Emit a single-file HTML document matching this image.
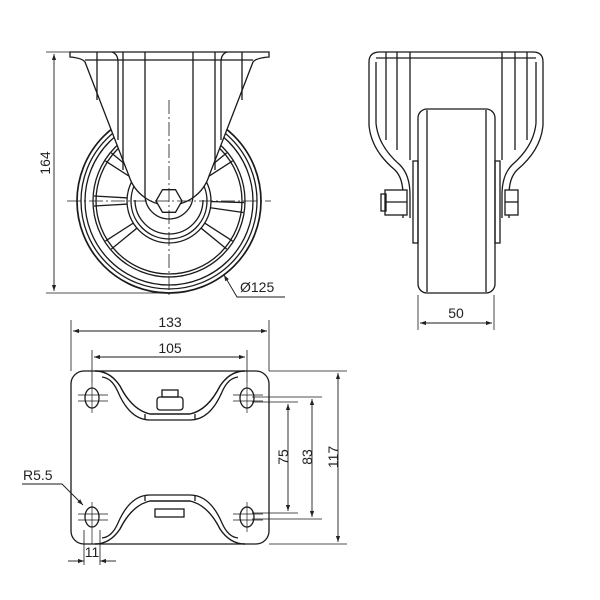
<!DOCTYPE html>
<html><head><style>
html,body{margin:0;padding:0;background:#fff;}
svg{display:block;}
text{font-family:"Liberation Sans",sans-serif;font-size:14px;fill:#222;}
</style></head><body>
<svg width="600" height="600" viewBox="0 0 600 600" xmlns="http://www.w3.org/2000/svg">
<defs>
<marker id="a" viewBox="0 0 10 10" refX="10" refY="5" markerWidth="8" markerHeight="6" orient="auto-start-reverse" markerUnits="userSpaceOnUse"><path d="M0,1.5 L10,5 L0,8.5 Z" fill="#222"/></marker>
</defs>
<g fill="none" stroke="#1a1a1a" stroke-width="1.3">
<circle cx="169" cy="201" r="92" stroke-width="1.7"/>
<circle cx="169" cy="201" r="88"/>
<circle cx="169" cy="201" r="84"/>
<circle cx="169" cy="201" r="76"/>
<circle cx="169" cy="201" r="73"/>
<g stroke-width="1.3">
<g transform="rotate(5 169 201)"><path d="M209,198 L244,196 M209,204 L244,206"/></g>
<g transform="rotate(36 169 201)"><path d="M209,198 L244,196 M209,204 L244,206"/></g>
<g transform="rotate(144 169 201)"><path d="M209,198 L244,196 M209,204 L244,206"/></g>
<g transform="rotate(180 169 201)"><path d="M209,198 L244,196 M209,204 L244,206"/></g>
<g transform="rotate(216 169 201)"><path d="M209,198 L244,196 M209,204 L244,206"/></g>
<g transform="rotate(252 169 201)"><path d="M209,198 L244,196 M209,204 L244,206"/></g>
<g transform="rotate(288 169 201)"><path d="M209,198 L244,196 M209,204 L244,206"/></g>
<g transform="rotate(324 169 201)"><path d="M209,198 L244,196 M209,204 L244,206"/></g>
</g>
<circle cx="169" cy="201" r="42" fill="#fff"/>
<circle cx="169" cy="201" r="38"/>
<path d="M70,52 L269,52 L269,57 Q256,58 253,62 L209,176 A42,42 0 0 1 129,176 L85,62 Q82,58 70,57 Z" fill="#fff"/>
<path d="M85,60 L253,60"/>
<path d="M97,52 L97,100 M242,52 L242,100"/>
<path d="M112,52 Q118,54 118,62 L118,140 M227,52 Q221,54 221,62 L221,140"/>
<path d="M123,52 L123,170 M215,52 L215,170"/>
<path d="M145,52 L145,195 A24,24 0 0 0 193,195 L193,52" />
<path d="M135,200 A34,34 0 0 0 203,200"/>
<polygon points="156,201 162.5,189.7 175.5,189.7 182,201 175.5,212.3 162.5,212.3" fill="#fff"/>
<path d="M169,100 L169,296 M67,201 L271,201" stroke-width="0.8" stroke-dasharray="14,3,2,3"/>
<path d="M46,52 L70,52 M46,293 L169,293" stroke-width="0.8"/>
<path d="M54,54 L54,291" stroke-width="0.9" marker-start="url(#a)" marker-end="url(#a)"/>
<path d="M224,275 L237,297 L285,297" stroke-width="0.9" marker-start="url(#a)"/>

<path d="M369,62 Q369,52 380,52 L533,52 Q543,52 543,62" />
<path d="M369,62 L369,125 Q371,150 395,170 Q403,178 403,195 L403,218"/>
<path d="M543,62 L543,125 Q541,150 517,170 Q509,178 509,195 L509,218"/>
<path d="M376,62 L376,123 Q378,146 400,165 Q410,175 410,195 L410,218"/>
<path d="M536,62 L536,123 Q534,146 512,165 Q502,175 502,195 L502,218"/>
<path d="M386,52 L386,140 M397,52 L397,150 M410,52 L410,160 M502,52 L502,160 M515,52 L515,150 M527,52 L527,140"/>
<path d="M376,58 L536,58"/>
<rect x="413" y="161" width="5" height="82"/>
<rect x="495" y="161" width="5" height="82"/>
<rect x="418" y="109" width="77" height="184" rx="9"/>
<path d="M427,110 L427,292 M486,110 L486,292"/>
<rect x="385" y="190" width="22" height="25" fill="#fff"/>
<path d="M385,202 L407,202"/>
<rect x="381" y="194" width="5" height="17"/>
<rect x="505" y="190" width="13" height="25" fill="#fff"/>
<path d="M505,202 L518,202"/>
<path d="M418,295 L418,330 M494,295 L494,330" stroke-width="0.8"/>
<path d="M420,323 L492,323" stroke-width="0.9" marker-start="url(#a)" marker-end="url(#a)"/>

<rect x="71" y="371" width="198" height="173" rx="13"/>
<path d="M95,371 Q110,371 120,386 Q132,410 150,414 L190,414 Q208,410 220,386 Q230,371 245,371" stroke-width="1.4"/>
<path d="M102,377 Q112,378 118,392 Q130,420 150,420 L190,420 Q210,420 222,392 Q228,378 238,377"/>
<path d="M95,544 Q110,544 120,529 Q132,505 150,501 L190,501 Q208,505 220,529 Q230,544 245,544" stroke-width="1.4"/>
<path d="M102,538 Q112,537 118,523 Q130,495 150,495 L190,495 Q210,495 222,523 Q228,537 238,538"/>
<path d="M145,414 L145,420 M195,414 L195,420 M145,495 L145,501 M195,495 L195,501" />
<rect x="157" y="397" width="26" height="13" rx="3"/>
<rect x="162" y="390" width="16" height="7"/>
<rect x="155" y="509" width="29" height="8"/>
<ellipse cx="92" cy="398" rx="7" ry="10"/>
<ellipse cx="247" cy="398" rx="7" ry="10"/>
<ellipse cx="92" cy="517" rx="7" ry="10"/>
<ellipse cx="247" cy="517" rx="7" ry="10"/>
<g stroke-width="0.7">
<path d="M78,395 L108,395 M78,401 L108,401 M233,395 L263,395 M233,401 L263,401"/>
<path d="M78,514 L108,514 M78,520 L108,520 M233,514 L263,514 M233,520 L263,520"/>
<path d="M92,383 L92,413 M247,383 L247,413 M92,502 L92,544 M247,502 L247,532"/>
</g>
<g stroke-width="0.8">
<path d="M71,320 L71,371 M269,320 L269,371"/>
<path d="M92,350 L92,383 M247,350 L247,383"/>
<path d="M269,371 L347,371 M269,544 L347,544 M252,397 L322,397 M252,519 L322,519 M252,402 L298,402 M252,513 L298,513"/>
<path d="M84,530 L84,565 M100,530 L100,565"/>
</g>
<g stroke-width="0.9">
<path d="M73,331 L267,331" marker-start="url(#a)" marker-end="url(#a)"/>
<path d="M94,357 L245,357" marker-start="url(#a)" marker-end="url(#a)"/>
<path d="M288,404 L288,511" marker-start="url(#a)" marker-end="url(#a)"/>
<path d="M312,399 L312,517" marker-start="url(#a)" marker-end="url(#a)"/>
<path d="M338,373 L338,542" marker-start="url(#a)" marker-end="url(#a)"/>
<path d="M68,561 L84,561" marker-end="url(#a)"/>
<path d="M116,561 L100,561" marker-end="url(#a)"/>
<path d="M22,484 L62,484 L83,505" marker-end="url(#a)"/>
</g>
</g>
<text x="50" y="173" text-anchor="middle" transform="rotate(-90 45 168)">164</text>
<text x="240" y="292">Ø125</text>
<text x="456" y="318" text-anchor="middle">50</text>
<text x="170" y="327" text-anchor="middle">133</text>
<text x="170" y="353" text-anchor="middle">105</text>
<text x="283" y="462" text-anchor="middle" transform="rotate(-90 283 457)">75</text>
<text x="307" y="462" text-anchor="middle" transform="rotate(-90 307 457)">83</text>
<text x="333" y="462" text-anchor="middle" transform="rotate(-90 333 457)">117</text>
<text x="23" y="480">R5.5</text>
<text x="92" y="557" text-anchor="middle">11</text>
</svg>
</body></html>
